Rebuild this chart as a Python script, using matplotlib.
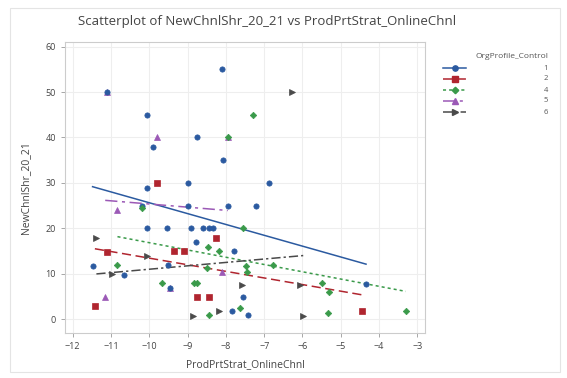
import matplotlib
matplotlib.use("Agg")
import matplotlib.pyplot as plt
from matplotlib.lines import Line2D
from matplotlib.patches import Rectangle
import numpy as np

plt.rcParams['font.family'] = ['Open Sans', 'DejaVu Sans']

# OrgProfile_Control groups
groups = ['1', '2', '4', '5', '6']

x_g1 = [-11.48, -11.1, -10.65, -10.05, -9.9, -10.07, -10.2, -10.07, -9.53, -9.5,
        -9.45, -9.0, -8.98, -8.9, -8.75, -8.77, -8.59, -8.45, -8.33, -8.09,
        -8.07, -7.95, -7.78, -7.85, -7.55, -7.42, -7.2, -6.87, -4.34]
y_g1 = [11.7, 50, 9.8, 45, 38, 29, 25, 20, 20, 12,
        7, 30, 25, 20, 40, 17, 20, 20, 20, 55,
        35, 25, 15, 1.8, 5, 1, 25, 30, 7.7]

x_g2 = [-11.42, -11.1, -9.8, -9.35, -9.1, -8.25, -8.75, -8.43, -4.45]
y_g2 = [3, 14.8, 30, 15, 15, 18, 5, 5, 1.8]

x_g4 = [-10.2, -10.83, -9.68, -8.82, -8.75, -8.46, -8.17, -8.48, -8.45, -7.95,
        -7.3, -7.55, -7.47, -7.45, -7.62, -6.76, -5.5, -5.3, -5.33, -3.3]
y_g4 = [24.5, 12, 8, 8, 8, 16, 15, 11.2, 1, 40,
        45, 20, 11.7, 10.4, 2.6, 12, 8, 6, 1.5, 1.8]

x_g5 = [-11.15, -10.85, -9.8, -8.1, -11.1, -7.95, -9.45]
y_g5 = [5, 24, 40, 10.5, 50, 40, 7]

x_g6 = [-11.38, -10.05, -10.97, -7.57, -8.87, -8.17, -6.06, -5.98, -6.27]
y_g6 = [18, 14, 10, 7.5, 0.7, 1.8, 7.5, 0.7, 50]

xs = [x_g1, x_g2, x_g4, x_g5, x_g6]
ys = [y_g1, y_g2, y_g4, y_g5, y_g6]

colors = ['#2b5aa0', '#b0252f', '#3a9a4a', '#9b59b6', '#4a4a4a']
markers = ['o', 's', 'D', '^', '>']
msizes = [3.8, 3.8, 3.3, 3.8, 4.0]
mzorders = [3, 3, 3, 2.5, 3]
styles = ['-', (0, (6, 3)), (0, (2, 2)), (0, (8, 3, 2, 3)), (0, (6, 2, 1.5, 2))]

fig = plt.figure(figsize=(5.67, 3.78), dpi=100)
ax = fig.add_axes([65 / 567, 1 - 333 / 378, 360 / 567, 291 / 378])

for xv, yv, c, m, ms, mz, ls in zip(xs, ys, colors, markers, msizes, mzorders, styles):
    xv = np.array(xv)
    yv = np.array(yv)
    ax.plot(xv, yv, linestyle='none', marker=m, color=c, markersize=ms,
            markeredgewidth=0.5, markeredgecolor=c, zorder=mz)
    b, a = np.polyfit(xv, yv, 1)
    xl = np.array([xv.min(), xv.max()])
    ax.plot(xl, a + b * xl, color=c, linestyle=ls, linewidth=1.1, zorder=2)

ax.set_xlim(-12.2, -2.8)
ax.set_ylim(-3, 61)
ax.set_xticks(np.arange(-12, -2, 1))
ax.set_yticks(np.arange(0, 61, 10))
ax.grid(True, color='#eeeeee', linewidth=0.8)
ax.set_axisbelow(True)
for s in ax.spines.values():
    s.set_color('#cccccc')
ax.tick_params(labelsize=6.5, colors='#999999', length=3, width=0.6)
for lab in ax.get_xticklabels() + ax.get_yticklabels():
    lab.set_color('#444444')

ax.set_xlabel('ProdPrtStrat_OnlineChnl', fontsize=7.5, color='#444444', labelpad=6)
ax.set_ylabel('NewChnlShr_20_21', fontsize=7.5, color='#444444', labelpad=10)
fig.text(267 / 567, 1 - 22 / 378, 'Scatterplot of NewChnlShr_20_21 vs ProdPrtStrat_OnlineChnl',
         ha='center', va='center', fontsize=9.5, color='#444444')

# legend drawn at the right of the axes
fig.text(548 / 567, 1 - 57 / 378, 'OrgProfile_Control', ha='right', va='center',
         fontsize=6, color='#555555')
for i, (g, c, m, ms, ls) in enumerate(zip(groups, colors, markers, msizes, styles)):
    yy = 1 - (68 + i * 11) / 378
    fig.add_artist(Line2D([443 / 567, 466 / 567], [yy, yy], transform=fig.transFigure,
                          color=c, linestyle=ls, linewidth=1.1))
    fig.add_artist(Line2D([454.5 / 567], [yy], transform=fig.transFigure, marker=m,
                          color=c, markersize=ms, linestyle='none'))
    fig.text(548 / 567, yy, g, ha='right', va='center', fontsize=5.5, color='#555555')

fig.add_artist(Rectangle((10 / 567, 6 / 378), 550 / 567, 364 / 378, transform=fig.transFigure,
                         fill=False, edgecolor='#e4e4e4', linewidth=0.8))

fig.savefig('out.png', dpi=100)
